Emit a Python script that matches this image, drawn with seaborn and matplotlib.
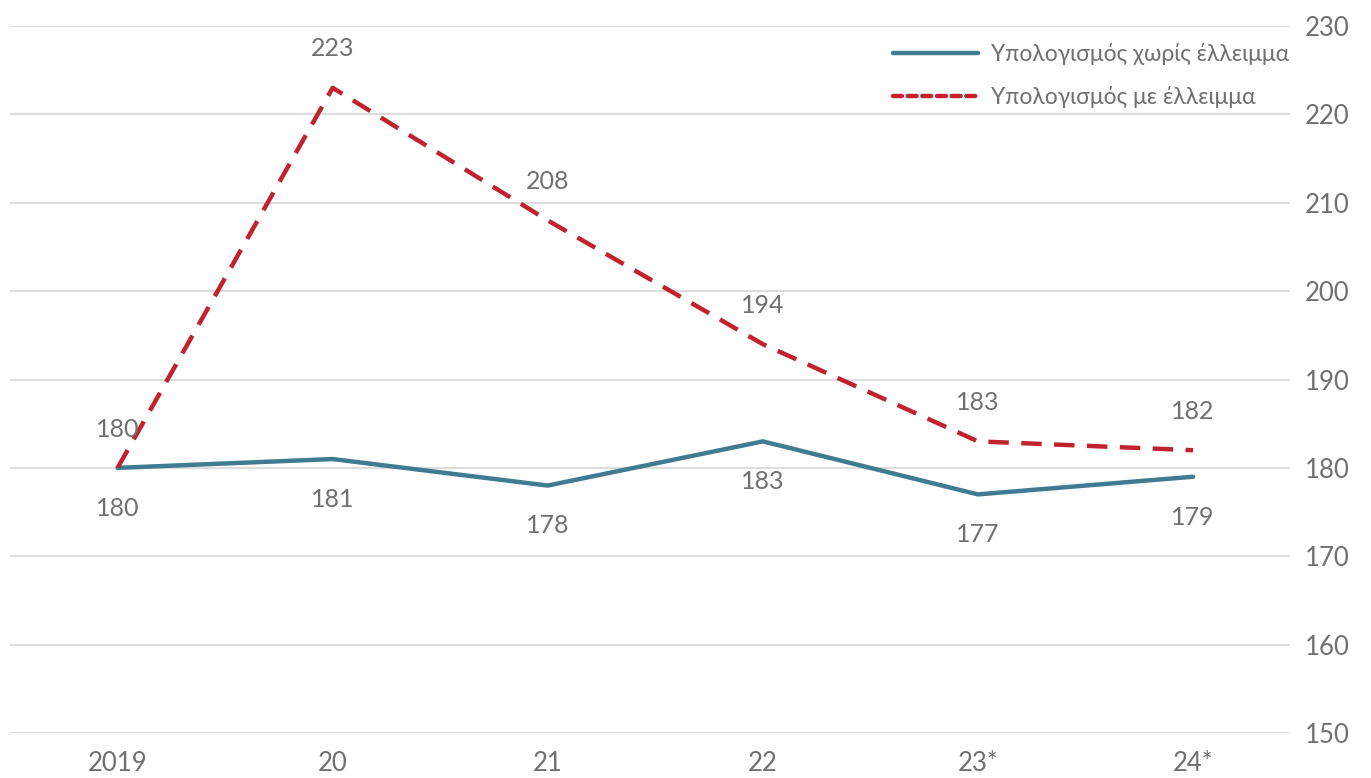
import matplotlib
matplotlib.use("Agg")
import matplotlib.pyplot as plt
import seaborn as sns
import pandas as pd
from matplotlib.lines import Line2D

categories = ["2019", "20", "21", "22", "23*", "24*"]
without_deficit = [180, 181, 178, 183, 177, 179]
with_deficit = [180, 223, 208, 194, 183, 182]
series_names = ["Υπολογισμός χωρίς έλλειμμα", "Υπολογισμός με έλλειμμα"]
y_ticks = [150, 160, 170, 180, 190, 200, 210, 220, 230]

sns.set_theme(style="white")
plt.rcParams['font.family'] = ['Lato', 'DejaVu Sans']

df = pd.DataFrame({
    "x": list(range(len(categories))) * 2,
    "value": without_deficit + with_deficit,
    "series": [series_names[0]] * len(categories) + [series_names[1]] * len(categories),
})

TXT = "#707070"
fig = plt.figure(figsize=(13.71, 7.78), dpi=100)
ax = fig.add_axes([0.0073, 0.0578, 0.9335, 0.9088])

colors = {series_names[0]: "#3f7c92", series_names[1]: "#c1222e"}
sns.lineplot(data=df, x="x", y="value", hue="series", style="series",
             palette=colors, dashes={series_names[0]: "", series_names[1]: (4.6, 2.8)},
             linewidth=3.2, ax=ax, legend=False)

ax.set_ylim(150, 230)
ax.set_xlim(-0.5, 5.45)
ax.set_yticks(y_ticks)
ax.set_xticks(range(len(categories)))
ax.set_xticklabels(categories)
ax.yaxis.tick_right()
ax.grid(axis="y", color="#dddddd", linewidth=1.5)
ax.grid(axis="x", visible=False)
ax.set_axisbelow(True)
for s in ax.spines.values():
    s.set_visible(False)
ax.tick_params(axis="both", length=0, labelsize=18.5, labelcolor=TXT)
ax.tick_params(axis="y", pad=11)
ax.tick_params(axis="x", pad=13)
ax.set_xlabel("")
ax.set_ylabel("")

for i, v in enumerate(without_deficit):
    ax.annotate(str(v), (i, v), xytext=(0, -29), textcoords="offset points",
                ha="center", va="center", fontsize=18, color=TXT)
for i, v in enumerate(with_deficit):
    ax.annotate(str(v), (i, v), xytext=(0, 28), textcoords="offset points",
                ha="center", va="center", fontsize=18, color=TXT)

handles = [Line2D([0], [0], color=colors[series_names[0]], lw=3.2, solid_capstyle="round"),
           Line2D([0], [0], color=colors[series_names[1]], lw=3.2, ls=(0, (2, 1.3)),
                  dash_capstyle="round")]
leg = ax.legend(handles, series_names, loc="upper right", bbox_to_anchor=(1.016, 1.005),
                frameon=False, fontsize=16.5, handlelength=3.7, labelspacing=0.9,
                handletextpad=0.6, labelcolor=TXT)

fig.savefig("out.png", dpi=100)
